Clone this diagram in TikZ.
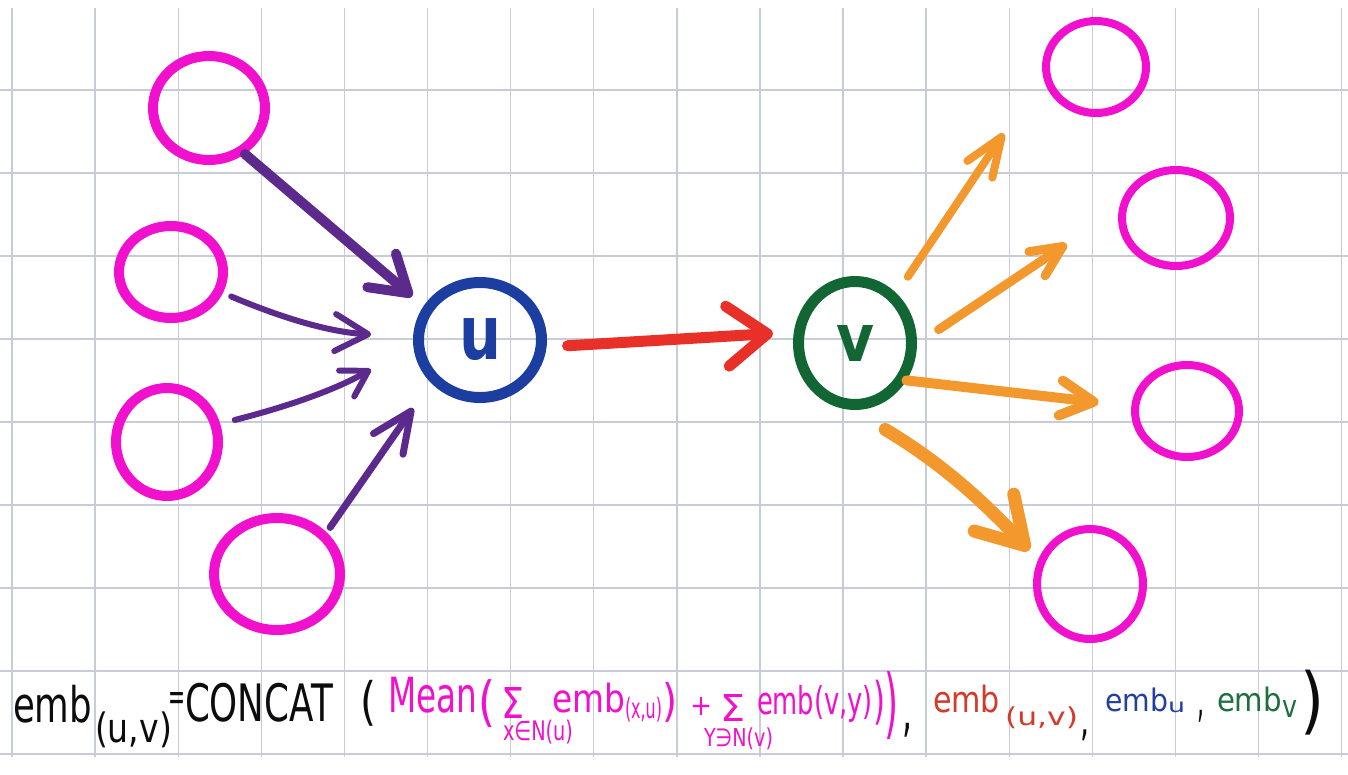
\documentclass[tikz,border=0pt]{standalone}
\usepackage{graphicx}
\usepackage{fontspec}
\setmainfont{DejaVu Sans}
\usetikzlibrary{shapes.geometric,arrows.meta}
\definecolor{gridc}{RGB}{200,204,214}
\definecolor{mag}{RGB}{240,16,206}
\definecolor{purp}{RGB}{92,42,140}
\definecolor{ublue}{RGB}{28,62,160}
\definecolor{vgreen}{RGB}{18,102,52}
\definecolor{ared}{RGB}{232,48,40}
\definecolor{aorange}{RGB}{243,152,44}
\definecolor{fred}{RGB}{212,58,40}
\definecolor{fblue}{RGB}{36,62,162}
\definecolor{fgreen}{RGB}{28,112,62}
\definecolor{ink}{RGB}{12,12,12}
\newcommand\fitbox[3]{\resizebox*{#1pt}{#2pt}{#3}}
\begin{document}
\begin{tikzpicture}[x=1pt,y=-1pt,
  gridline/.style={draw=gridc,line width=1.4pt},
  magl/.style={ellipse,draw=mag,line width=10pt,inner sep=0pt},
  magr/.style={ellipse,draw=mag,line width=8pt,inner sep=0pt},
  ucirc/.style={ellipse,draw=ublue,line width=11pt,text=ublue,inner sep=0pt,font=\bfseries},
  vcirc/.style={ellipse,draw=vgreen,line width=11pt,text=vgreen,inner sep=0pt,font=\bfseries},
  harrow/.style 2 args={line cap=round,-{Straight Barb[round,length=#1pt,width=#2pt]}},
  parr/.style={draw=purp},
  rarr/.style={draw=ared},
  oarr/.style={draw=aorange},
  ftxt/.style={anchor=north west,inner sep=0pt,outer sep=0pt}
]
\useasboundingbox (0,0) rectangle (1348,774);
\fill[white] (0,0) rectangle (1348,774);
% grid
\foreach \k in {0,...,16} \draw[gridline] ({12+83.1*\k},8) -- ({12+83.1*\k},757);
\foreach \j in {0,...,8} \draw[gridline] (0,{90+83*\j}) -- (1348,{90+83*\j});
% nodes
\node[magl,minimum width=112pt,minimum height=104pt] (l1) at (209,108) {};
\node[magl,minimum width=104pt,minimum height=92pt] (l2) at (171,272) {};
\node[magl,minimum width=102pt,minimum height=108pt] (l3) at (167,442) {};
\node[magl,minimum width=126pt,minimum height=112pt] (l4) at (277,574) {};
\node[ucirc,minimum width=123pt,minimum height=115pt] (u) at (480,340) {\fitbox{42}{42}{u}};
\node[vcirc,minimum width=113pt,minimum height=123pt] (v) at (855,343) {\fitbox{38}{36}{v}};
\node[magr,minimum width=100pt,minimum height=92pt] (r1) at (1096,67) {};
\node[magr,minimum width=108pt,minimum height=96pt] (r2) at (1176,218) {};
\node[magr,minimum width=104pt,minimum height=92pt] (r3) at (1187,411) {};
\node[magr,minimum width=106pt,minimum height=110pt] (r4) at (1090,584) {};
% arrows
\draw[parr,line width=10pt,harrow={35}{44},shorten >=15pt] (l1.-52) -- (u.149);
\draw[parr,line width=6pt,harrow={33}{37},shorten <=9pt,shorten >=42pt] (l2.-22) to[bend right=10] (u.177);
\draw[parr,line width=6pt,harrow={25}{30},shorten <=15pt,shorten >=49pt] (l3.19) to[bend right=8] (u.-176);
\draw[parr,line width=7pt,harrow={40}{36},shorten <=6pt,shorten >=31pt] (l4.40) -- (u.-139);
\draw[rarr,line width=11pt,harrow={40}{60},shorten <=21pt,shorten >=21pt] (u.-6) -- (v.170);
\draw[oarr,line width=8pt,harrow={39}{30},shorten <=20pt,shorten >=70pt] (v.50) -- (r1.-171);
\draw[oarr,line width=9pt,harrow={31}{29},shorten <=26pt,shorten >=63pt] (v.-1) -- (r2.171);
\draw[oarr,line width=10pt,harrow={33}{35},shorten >=33pt] (v.-36) -- (r3.175);
\draw[oarr,line width=13pt,harrow={45}{54},shorten <=38pt,shorten >=13pt] (v.-92) to[bend left=8] (r4.155);
% formula
\node[ftxt,text=ink] (t1) at (13,685) {\fitbox{79}{38}{emb}};
\node[ftxt,text=ink] (t2) at (95,712) {\fitbox{77}{36}{(u,v)}};
\node[ftxt,text=ink] (t3) at (168,692) {\fitbox{17}{18}{=}};
\node[ftxt,text=ink] (t4) at (185,683) {\fitbox{148}{39}{CONCAT}};
\node[ftxt,text=ink] (t5) at (360,680) {\fitbox{16}{46}{(}};
\node[ftxt,text=mag] (t6) at (388,677) {\fitbox{89}{36}{Mean}};
\node[ftxt,text=mag] (t7) at (478,680) {\fitbox{17}{48}{(}};
\node[ftxt,text=mag] (t8) at (501,687) {\fitbox{23}{31}{Σ}};
\node[ftxt,text=mag] (t9) at (503,720) {\fitbox{70}{24}{x∈N(u)}};
\node[ftxt,text=mag] (t10) at (552,683) {\fitbox{73}{30}{emb}};
\node[ftxt,text=mag] (t11) at (625,697) {\fitbox{37}{25}{(x,u)}};
\node[ftxt,text=mag] (t12) at (662,682) {\fitbox{15}{40}{)}};
\node[ftxt,text=mag] (t13) at (690,697) {\fitbox{22}{18}{+}};
\node[ftxt,text=mag] (t14) at (720,694) {\fitbox{25}{27}{Σ}};
\node[ftxt,text=mag] (t15) at (704,728) {\fitbox{69}{22}{Y∋N(v)}};
\node[ftxt,text=mag] (t16) at (757,685) {\fitbox{116}{37}{emb(v,y)}};
\node[ftxt,text=mag] (t17) at (873,680) {\fitbox{12}{45}{)}};
\node[ftxt,text=mag] (t18) at (884,672) {\fitbox{14}{68}{)}};
\node[ftxt,text=ink] (t19) at (902,723) {\fitbox{10}{14}{,}};
\node[ftxt,text=fred] (t20) at (933,685) {\fitbox{67}{28}{emb}};
\node[ftxt,text=fred] (t21) at (1005,707) {\fitbox{73}{22}{(u,v)}};
\node[ftxt,text=ink] (t22) at (1080,730) {\fitbox{9}{11}{,}};
\node[ftxt,text=fblue] (t23) at (1105,688) {\fitbox{63}{24}{emb}};
\node[ftxt,text=fblue] (t24) at (1168,702) {\fitbox{17}{11}{u}};
\node[ftxt,text=ink] (t25) at (1197,710) {\fitbox{7}{12}{,}};
\node[ftxt,text=fgreen] (t26) at (1217,687) {\fitbox{65}{25}{emb}};
\node[ftxt,text=fgreen] (t27) at (1282,700) {\fitbox{15}{17}{v}};
\node[ftxt,text=ink] (t28) at (1300,670) {\fitbox{24}{65}{)}};
\end{tikzpicture}
\end{document}
